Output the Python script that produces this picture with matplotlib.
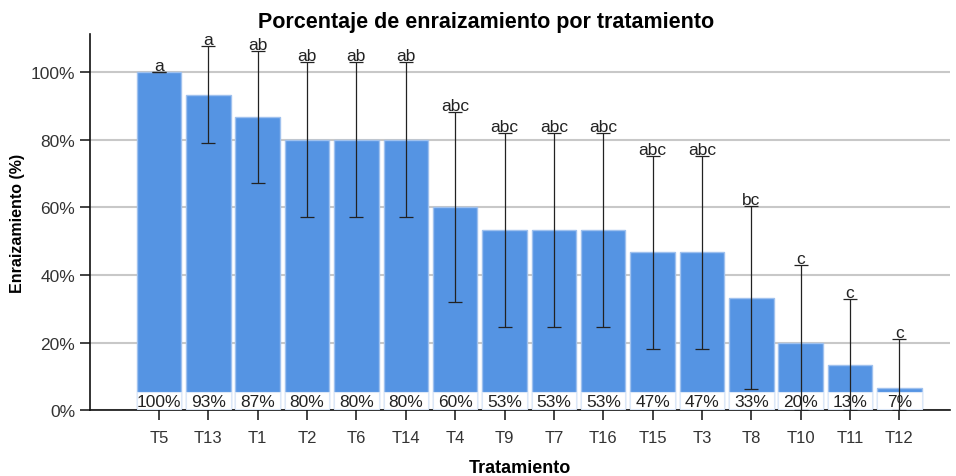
import numpy as np
import matplotlib.pyplot as plt
from matplotlib.ticker import PercentFormatter

plt.rcParams['font.family'] = ['Liberation Sans', 'DejaVu Sans']

# Datos
tratamientos = ["T5", "T13", "T1", "T2", "T6", "T14", "T4", "T9", "T7", "T16",
                "T15", "T3", "T8", "T10", "T11", "T12"]
porcentaje = [100, 93.3, 86.7, 80, 80, 80, 60, 53.3, 53.3, 53.3,
              46.7, 46.7, 33.3, 20, 13.3, 6.7]
err_sup = [100, 107.7, 106.2, 103, 103, 103, 88.2, 82, 82, 82,
           75.1, 75.1, 60.4, 42.9, 32.8, 21]
err_inf = [100, 79, 67.2, 57.1, 57.1, 57.1, 32, 24.6, 24.6, 24.6,
           18, 18, 6.2, 0, 0, 0]
letras = ["a", "a", "ab", "ab", "ab", "ab", "abc", "abc", "abc", "abc",
          "abc", "abc", "bc", "c", "c", "c"]
etiquetas = ["100%", "93%", "87%", "80%", "80%", "80%", "60%", "53%", "53%", "53%",
             "47%", "47%", "33%", "20%", "13%", "7%"]

x = np.arange(len(tratamientos))
valores = np.array(porcentaje)
yerr = [valores - np.array(err_inf), np.array(err_sup) - valores]

fig = plt.figure(figsize=(9.56, 4.77), dpi=100)
ax = fig.add_axes([0.094, 0.138, 0.9, 0.789])

ax.yaxis.grid(True, color="#c8c8c8", linewidth=1.5, zorder=0)
ax.set_axisbelow(True)

ax.bar(x, valores, width=0.9, color="#5594e3", edgecolor="#9fc1ee", linewidth=1, zorder=2)

# caja blanca de la etiqueta de valor
ax.bar(x, 5.0, bottom=0.35, width=0.9, color="white", edgecolor="#dce8f8",
       linewidth=0.8, zorder=3)
for xi, lab in zip(x, etiquetas):
    ax.text(xi, 2.7, lab, ha="center", va="center", fontsize=12.5, color="#222222", zorder=4)

ax.errorbar(x, valores, yerr=yerr, fmt="none", ecolor="#222222", elinewidth=0.9,
            capsize=5, capthick=0.9, zorder=5)

for xi, top, let in zip(x, err_sup, letras):
    ax.text(xi, top - 0.3, let, ha="center", va="bottom", fontsize=12.5, color="#222222", zorder=6)

ax.set_xlim(-1.4, len(tratamientos) - 1 + 1.03)
ax.set_ylim(0, 111.3)
ax.set_yticks([0, 20, 40, 60, 80, 100])
ax.yaxis.set_major_formatter(PercentFormatter(decimals=0))
ax.set_xticks(x)
ax.set_xticklabels(tratamientos)
ax.tick_params(axis="both", labelsize=12, length=7, width=1.2, colors="#222222",
               labelcolor="#333333")
ax.tick_params(axis="y", labelsize=12.5)
ax.tick_params(axis="x", pad=7)

for s in ["top", "right"]:
    ax.spines[s].set_visible(False)
for s in ["left", "bottom"]:
    ax.spines[s].set_linewidth(1.2)
    ax.spines[s].set_color("#111111")

ax.set_title("Porcentaje de enraizamiento por tratamiento", fontsize=15.5,
             fontweight="bold", x=0.46, y=1.0, pad=5)
ax.set_xlabel("Tratamiento", fontsize=13, fontweight="bold", labelpad=10)
ax.set_ylabel("Enraizamiento (%)", fontsize=11.5, fontweight="bold", labelpad=4)

fig.savefig("out.png", dpi=100)
